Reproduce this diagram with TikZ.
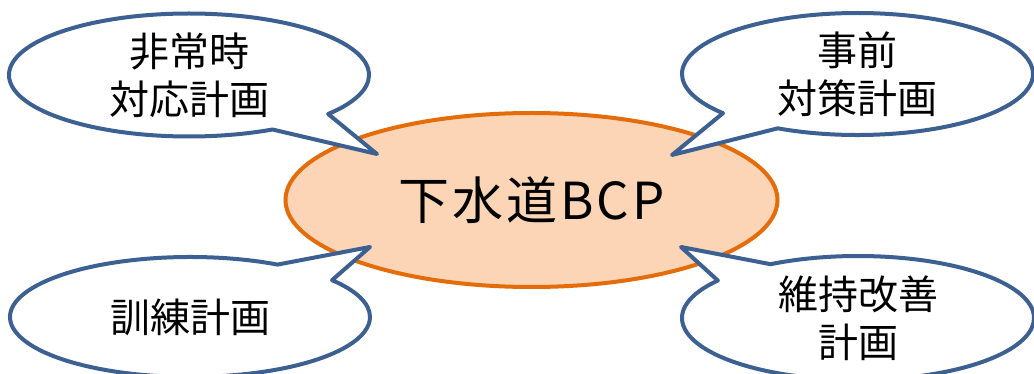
\documentclass[tikz,border=0pt]{standalone}
\usepackage{fontspec}
\setmainfont{Noto Sans CJK JP}
\newfontfamily\bcpfont{Noto Sans CJK JP}[LetterSpace=6]
\usetikzlibrary{shapes.callouts,shapes.geometric}
\definecolor{bubblue}{RGB}{60,96,145}
\definecolor{bcporange}{RGB}{228,108,10}
\definecolor{bcpfill}{RGB}{251,213,181}
\tikzset{
  bubble/.style={ellipse callout, draw=bubblue, fill=white, line width=4pt,
    line join=round, inner sep=0pt, outer sep=0pt, callout pointer arc=23,
    align=center, font=\fontsize{40}{48}\selectfont},
  center ellipse/.style={ellipse, draw=bcporange, fill=bcpfill, line width=4pt,
    inner sep=0pt, outer sep=0pt, minimum width=492pt, minimum height=174pt,
    font=\bcpfont\fontsize{51}{60}\selectfont}
}
\begin{document}
\begin{tikzpicture}[x=1pt,y=-1pt]
\clip (0,0) rectangle (1034,374);
\fill[white] (0,0) rectangle (1034,374);
\node[center ellipse] (bcp) at (531.5,200) {下水道BCP};
\coordinate (tipA) at (377,154);
\coordinate (tipB) at (672,155);
\coordinate (tipC) at (370,247);
\coordinate (tipD) at (681,247);
\node[bubble, minimum width=360pt, minimum height=123pt,
  callout absolute pointer={(tipA)}] (hijo) at (189,75) {非常時\\対応計画};
\node[bubble, minimum width=351pt, minimum height=122pt,
  callout absolute pointer={(tipB)}] (jizen) at (857.5,74) {事前\\対策計画};
\node[bubble, minimum width=360pt, minimum height=120pt,
  callout absolute pointer={(tipC)}] (kunren) at (190,317) {訓練計画};
\node[bubble, minimum width=352pt, minimum height=124pt,
  callout absolute pointer={(tipD)}] (iji) at (858,318) {維持改善\\計画};
\end{tikzpicture}
\end{document}
